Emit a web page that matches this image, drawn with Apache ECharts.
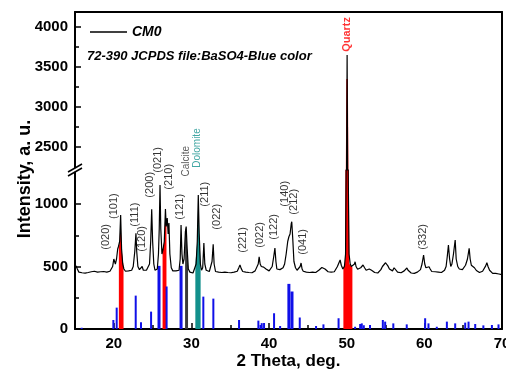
<!DOCTYPE html>
<html><head><meta charset="utf-8">
<script src="https://cdn.jsdelivr.net/npm/echarts@6/dist/echarts.min.js"></script>
<style>html,body{margin:0;padding:0;background:#fff}#c{width:506px;height:376px}</style>
</head><body><div id="c"></div>
<script>
const FONT = "'Liberation Sans', Arial, sans-serif";

// x tick labels and y tick labels
const thetaTicks = [20, 30, 40, 50, 60, 70];
const thetaMinorTicks = [25, 35, 45, 55, 65];
const lowerTicks = [0, 500, 1000];
const lowerMinorTicks = [250, 750];
const upperTicks = [2500, 3000, 3500, 4000];
const upperMinorTicks = [2750, 3250, 3750];

// CM0 measured pattern [2theta, intensity]
const cm0 = [
 [15.0,485],[15.15,505],[15.3,480],[15.5,455],[15.7,462],[15.9,450],[16.1,458],[16.3,447],[16.5,460],[16.7,452],
 [16.9,445],[17.1,458],[17.3,450],[17.5,462],[17.7,448],[17.9,455],[18.1,445],[18.3,458],[18.5,450],[18.7,460],
 [18.9,447],[19.1,455],[19.3,448],[19.5,462],[19.7,470],[19.85,500],[20.0,560],[20.08,570],[20.2,520],[20.35,560],
 [20.5,640],[20.6,660],[20.75,700],[20.88,912],[21.0,640],[21.15,520],[21.3,480],[21.5,462],[21.7,455],[21.9,465],
 [22.1,458],[22.3,470],[22.5,500],[22.7,620],[22.85,765],[22.95,620],[23.1,500],[23.3,475],[23.5,480],[23.65,500],
 [23.8,470],[24.0,460],[24.2,470],[24.4,480],[24.6,520],[24.75,700],[24.88,957],[25.0,700],[25.15,520],[25.3,470],
 [25.45,460],[25.6,480],[25.75,600],[25.85,800],[25.95,1152],[26.05,800],[26.2,600],[26.35,640],[26.5,700],[26.65,960],
 [26.75,820],[26.88,888],[27.0,760],[27.1,848],[27.22,600],[27.4,490],[27.6,465],[27.8,458],[28.0,465],[28.2,455],
 [28.4,470],[28.55,560],[28.66,832],[28.78,600],[28.9,520],[29.05,560],[29.22,780],[29.32,819],[29.45,640],[29.6,480],
 [29.8,455],[30.0,450],[30.2,448],[30.4,460],[30.6,520],[30.75,700],[30.88,1072],[31.0,760],[31.15,520],[31.3,470],
 [31.45,490],[31.6,688],[31.72,520],[31.9,470],[32.1,455],[32.3,460],[32.5,470],[32.65,540],[32.8,677],[32.92,520],
 [33.1,460],[33.3,450],[33.5,455],[33.7,445],[33.9,452],[34.1,446],[34.3,455],[34.5,448],[34.7,452],[34.9,446],
 [35.1,450],[35.3,445],[35.5,455],[35.7,450],[35.9,462],[36.1,490],[36.25,512],[36.4,485],[36.6,460],[36.8,450],
 [37.0,455],[37.2,448],[37.4,452],[37.6,446],[37.8,450],[38.0,458],[38.2,465],[38.45,480],[38.6,520],[38.72,578],
 [38.85,520],[39.0,500],[39.15,512],[39.3,495],[39.45,505],[39.6,480],[39.8,470],[40.0,465],[40.2,470],[40.4,500],
 [40.6,580],[40.75,648],[40.88,540],[41.0,480],[41.2,470],[41.4,475],[41.6,470],[41.8,490],[42.0,520],[42.2,600],
 [42.4,700],[42.55,738],[42.7,760],[42.85,840],[42.92,858],[43.05,720],[43.2,540],[43.4,490],[43.6,470],[43.8,480],
 [44.0,500],[44.12,528],[44.25,480],[44.4,462],[44.6,450],[44.8,455],[45.0,445],[45.2,452],[45.4,448],[45.6,455],
 [45.8,446],[46.0,452],[46.2,460],[46.4,470],[46.6,480],[46.8,492],[47.0,498],[47.2,480],[47.4,465],[47.6,458],
 [47.8,462],[48.0,455],[48.2,448],[48.4,458],[48.6,470],[48.8,500],[49.0,530],[49.15,552],[49.3,510],[49.5,480],
 [49.7,500],[49.85,600],[49.95,1500],[50.05,3650],[50.15,1500],[50.3,600],[50.45,520],[50.6,500],[50.8,490],[51.0,520],
 [51.08,538],[51.2,500],[51.4,478],[51.6,470],[51.8,490],[52.0,505],[52.1,512],[52.3,490],[52.5,470],[52.7,465],
 [52.9,480],[53.0,485],[53.2,470],[53.4,460],[53.6,452],[53.8,455],[54.0,448],[54.2,460],[54.4,475],[54.6,500],
 [54.8,515],[55.0,530],[55.1,530],[55.3,505],[55.5,480],[55.7,470],[55.9,465],[56.1,490],[56.2,498],[56.35,480],
 [56.55,455],[56.8,448],[57.0,450],[57.2,455],[57.4,465],[57.6,480],[57.75,488],[57.9,470],[58.1,455],[58.3,448],
 [58.5,452],[58.7,445],[58.9,450],[59.1,455],[59.3,460],[59.5,475],[59.7,520],[59.9,592],[60.05,520],[60.2,490],
 [60.4,485],[60.6,498],[60.75,480],[60.95,460],[61.2,452],[61.4,458],[61.6,450],[61.8,455],[62.0,460],[62.2,452],
 [62.4,462],[62.6,470],[62.8,500],[62.95,580],[63.1,672],[63.25,560],[63.4,500],[63.55,520],[63.75,600],[63.97,712],
 [64.1,560],[64.3,500],[64.5,480],[64.7,470],[64.9,475],[65.1,490],[65.3,510],[65.55,560],[65.77,645],[65.9,560],
 [66.05,510],[66.3,525],[66.45,490],[66.7,468],[66.9,460],[67.1,452],[67.3,458],[67.5,462],[67.7,475],[67.9,505],
 [68.05,530],[68.2,500],[68.4,470],[68.6,455],[68.8,445],[69.0,440],[69.2,445],[69.4,437],[69.6,440],[69.8,432],[70.0,435]
];

// highlighted peak areas (outline of each filled region)
const quartzFill = [[49.57,0],[49.57,495],[49.78,520],[49.83,1300],[49.95,3350],[50.15,3350],[50.27,1300],[50.33,520],[50.73,495],[50.73,0]];
const red101Fill = [[20.65,0],[20.65,650],[20.75,700],[20.88,905],[21.0,640],[21.25,500],[21.25,0]];
const red210Fill = [[26.28,0],[26.28,620],[26.5,700],[26.65,968],[26.78,820],[26.78,0]];
const calciteFill = [[29.18,0],[29.18,780],[29.32,815],[29.45,640],[29.56,500],[29.56,0]];
const dolomiteFill = [[30.5,0],[30.5,520],[30.75,700],[30.88,1070],[31.0,760],[31.18,520],[31.18,0]];

// BaSO4 reference lines (JCPDS 72-390)
const baso4Thin = [
 [15.86,10],[19.94,72],[20.37,171],[22.82,267],[23.5,54],[24.8,139],[26.8,340],[31.53,259],[32.82,243],
 [36.13,72],[38.62,67],[38.9,32],[39.05,47],[39.35,48],[40.64,126],[41.42,24],[43.95,92],[46.05,24],[47.0,37],
 [48.95,86],[51.08,18],[51.73,40],[51.94,45],[52.2,30],[53.0,32],[54.65,72],[54.95,59],[56.0,45],[57.73,37],
 [60.1,86],[60.53,45],[61.6,18],[62.9,59],[63.97,45],[65.26,51],[65.69,59],[66.55,40],[67.6,29],[68.7,32],[69.55,37]
];
const baso4Wide = [[25.82,505],[28.66,505],[42.55,361],[42.95,300]];

// peak labels [text, 2theta, intensity at label start]
const millerLabels = [
 ['(020)',18.95,634],['(101)',20.05,880],['(111)',22.73,819],['(120)',23.6,618],['(200)',24.66,1051],
 ['(021)',25.65,1250],['(210)',27.1,1115],['(121)',28.53,875],['(211)',31.75,979],['(022)',33.3,795],
 ['(221)',36.59,610],['(022)',38.78,650],['(122)',40.64,714],['(140)',42.06,979],['(212)',43.22,915],
 ['(041)',44.38,594],['(332)',59.85,634]
];
const phaseLabels = [['Calcite',29.3,1220,'#333333'],['Dolomite',30.7,1290,'#12908c']];
const quartzLabel = ['Quartz',50.05,3690];

const chart = echarts.init(document.getElementById('c'), null, {renderer:'canvas'});
const axisLabelStyle = {fontSize:15, fontWeight:'bold', color:'#000', fontFamily:FONT, formatter:v=>String(v)};
const lineStyle2 = {color:'#000', width:2};

// filled region drawn as one polygon through the axis scales, clipped to its grid
const fillSeries = (outline, color, xi, yi) => ({
  type:'custom', xAxisIndex:xi, yAxisIndex:yi, data:[outline[0]], clip:true, silent:true, z:1,
  encode:{x:0, y:1},
  renderItem:(params, api) => {
    const pts = outline.map(p => api.coord(p));
    return {type:'polygon', shape:{points:pts}, style:{fill:color}};
  }
});

const option = {
  animation:false,
  backgroundColor:'#fff',
  title:{text:'72-390 JCPDS file:BaSO4-Blue color', left:87, top:50, padding:0,
    textStyle:{fontSize:13, fontWeight:'bold', fontStyle:'italic', color:'#000', fontFamily:FONT}},
  legend:{data:['CM0'], left:90, top:25, padding:0, icon:'rect', itemWidth:37, itemHeight:1.5,
    textStyle:{fontSize:14, fontWeight:'bold', fontStyle:'italic', color:'#000', fontFamily:FONT}},
  grid:[
    {left:75, right:4, top:12, height:158, containLabel:false, outerBoundsMode:'none'},
    {left:75, right:4, top:170, bottom:47, containLabel:false, outerBoundsMode:'none'}
  ],
  xAxis:[
    {type:'value', gridIndex:1, min:15, max:70, position:'bottom',
     axisLine:{show:true, lineStyle:lineStyle2},
     axisTick:{show:true, inside:true, length:6, customValues:thetaTicks, lineStyle:{color:'#000', width:1.5}},
     axisLabel:{customValues:thetaTicks, margin:7, ...axisLabelStyle},
     splitLine:{show:false},
     name:'2 Theta, deg.', nameLocation:'middle', nameGap:24,
     nameTextStyle:{fontSize:17, fontWeight:'bold', color:'#000', fontFamily:FONT}},
    {type:'value', gridIndex:1, min:15, max:70, position:'bottom',
     axisLine:{show:false}, axisLabel:{show:false}, splitLine:{show:false},
     axisTick:{show:true, inside:true, length:4, customValues:thetaMinorTicks, lineStyle:{color:'#000', width:1.5}}},
    {type:'value', gridIndex:1, min:15, max:70, show:false},
    {type:'value', gridIndex:0, min:15, max:70, position:'top',
     axisLine:{show:true, lineStyle:lineStyle2}, axisTick:{show:false}, axisLabel:{show:false}, splitLine:{show:false}}
  ],
  yAxis:[
    {type:'value', gridIndex:1, min:0, max:1272, position:'left',
     axisLine:{show:true, lineStyle:lineStyle2},
     axisTick:{show:true, inside:true, length:6, customValues:lowerTicks, lineStyle:{color:'#000', width:1.5}},
     axisLabel:{customValues:lowerTicks, margin:7, ...axisLabelStyle}, splitLine:{show:false}},
    {type:'value', gridIndex:1, min:0, max:1272, position:'left',
     axisLine:{show:false}, axisLabel:{show:false}, splitLine:{show:false},
     axisTick:{show:true, inside:true, length:4, customValues:lowerMinorTicks, lineStyle:{color:'#000', width:1.5}}},
    {type:'value', gridIndex:1, min:0, max:1272, position:'right',
     axisLine:{show:true, lineStyle:lineStyle2}, axisTick:{show:false}, axisLabel:{show:false}, splitLine:{show:false}},
    {type:'value', gridIndex:0, min:2212.5, max:4187.5, position:'left',
     axisLine:{show:true, lineStyle:lineStyle2},
     axisTick:{show:true, inside:true, length:6, customValues:upperTicks, lineStyle:{color:'#000', width:1.5}},
     axisLabel:{customValues:upperTicks, margin:7, ...axisLabelStyle}, splitLine:{show:false}},
    {type:'value', gridIndex:0, min:2212.5, max:4187.5, position:'left',
     axisLine:{show:false}, axisLabel:{show:false}, splitLine:{show:false},
     axisTick:{show:true, inside:true, length:4, customValues:upperMinorTicks, lineStyle:{color:'#000', width:1.5}}},
    {type:'value', gridIndex:0, min:2212.5, max:4187.5, position:'right',
     axisLine:{show:true, lineStyle:lineStyle2}, axisTick:{show:false}, axisLabel:{show:false}, splitLine:{show:false}}
  ],
  series:[
    fillSeries(quartzFill, '#ff0000', 0, 0),
    fillSeries(quartzFill, '#ff0000', 3, 3),
    fillSeries(red101Fill, '#ff0000', 0, 0),
    fillSeries(red210Fill, '#ff0000', 0, 0),
    fillSeries(calciteFill, '#3a3a3a', 0, 0),
    fillSeries(dolomiteFill, '#12908c', 0, 0),
    {type:'bar', name:'BaSO4', data:baso4Thin, xAxisIndex:0, yAxisIndex:0, barWidth:2,
     itemStyle:{color:'#1010e8'}, silent:true, z:2},
    {type:'bar', name:'BaSO4w', data:baso4Wide, xAxisIndex:2, yAxisIndex:0, barWidth:3,
     itemStyle:{color:'#1010e8'}, silent:true, z:2},
    {type:'line', name:'CM0', data:cm0, xAxisIndex:0, yAxisIndex:0, symbol:'none',
     lineStyle:{color:'#000', width:1.2}, itemStyle:{color:'#000'}, z:3},
    {type:'line', name:'CM0', data:cm0, xAxisIndex:3, yAxisIndex:3, symbol:'none',
     lineStyle:{color:'#000', width:1.2}, itemStyle:{color:'#000'}, z:3},
    {type:'scatter', data:millerLabels.map(d=>({name:d[0], value:[d[1],d[2]]})).concat(
       phaseLabels.map(d=>({name:d[0], value:[d[1],d[2]], label:{color:d[3], fontSize:10}}))),
     xAxisIndex:0, yAxisIndex:0, symbolSize:0, clip:false, silent:true, z:5,
     label:{show:true, formatter:'{b}', rotate:90, position:'inside', align:'left', verticalAlign:'middle',
       fontSize:11, color:'#000', fontFamily:FONT}},
    {type:'scatter', data:[{name:quartzLabel[0], value:[quartzLabel[1],quartzLabel[2]]}],
     xAxisIndex:3, yAxisIndex:3, symbolSize:0, clip:false, silent:true, z:5,
     label:{show:true, formatter:'{b}', rotate:90, position:'inside', align:'left', verticalAlign:'middle',
       fontSize:11, fontWeight:'bold', color:'#ff0000', fontFamily:FONT}}
  ],
  graphic:[
    {type:'text', x:25, y:179, rotation:Math.PI/2, z:10,
     style:{text:'Intensity, a. u.', fontSize:18, fontWeight:'bold', fontFamily:FONT, fill:'#000',
       align:'center', verticalAlign:'middle'}},
    {type:'polygon', z:10, shape:{points:[[68,175.5],[82,167.5],[82,164.5],[68,172.5]]}, style:{fill:'#fff'}},
    {type:'line', z:11, shape:{x1:68, y1:176, x2:82, y2:168}, style:{stroke:'#000', lineWidth:1.5}},
    {type:'line', z:11, shape:{x1:68, y1:172, x2:82, y2:164}, style:{stroke:'#000', lineWidth:1.5}}
  ]
};
chart.setOption(option);
</script>
</body></html>
